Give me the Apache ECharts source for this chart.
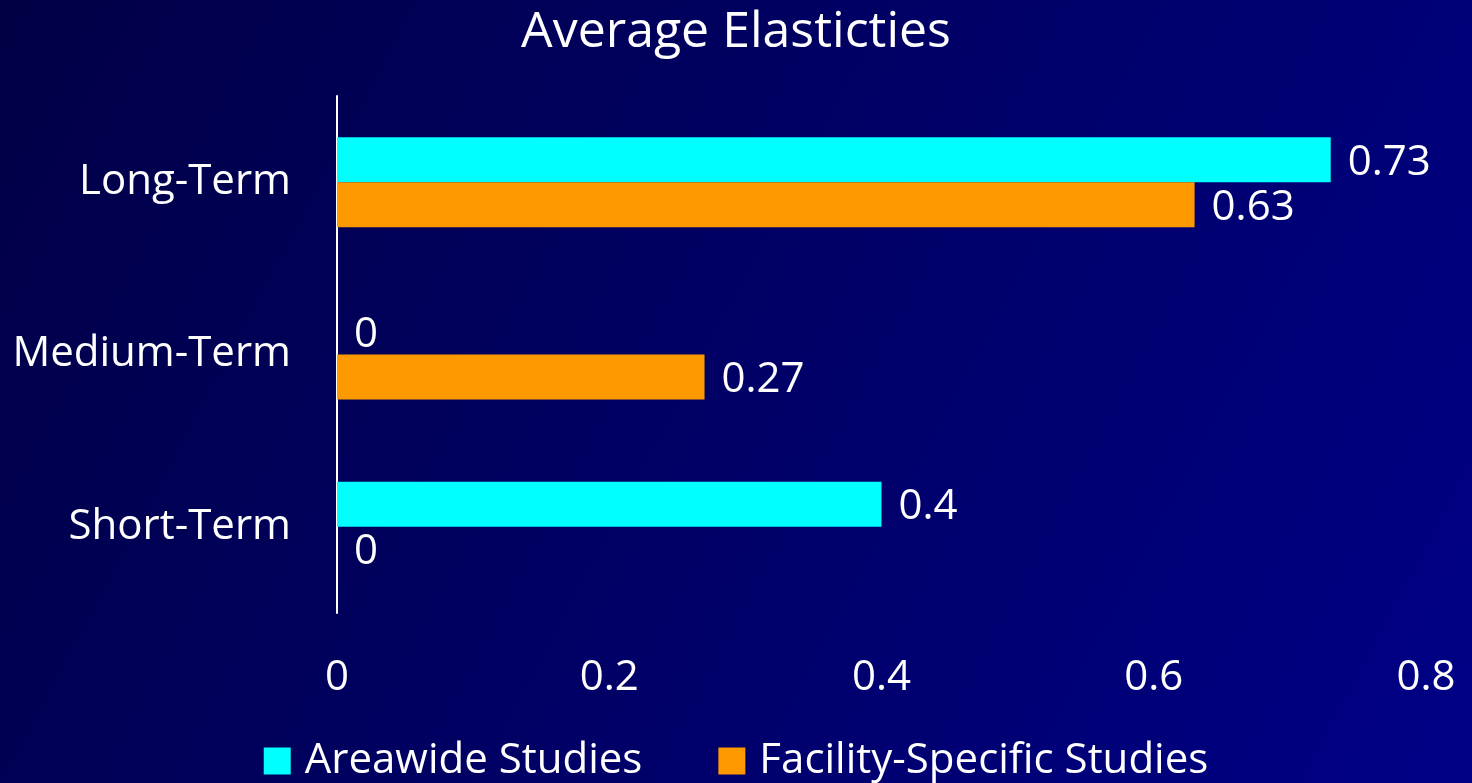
<!DOCTYPE html>
<html>
<head>
<meta charset="utf-8">
<script src="https://cdn.jsdelivr.net/npm/echarts@6/dist/echarts.min.js"></script>
<style>
html,body{margin:0;padding:0;width:1472px;height:783px;overflow:hidden;}
#chart{width:1472px;height:783px;}
</style>
</head>
<body>
<div id="chart"></div>
<script>
const categories = ['Long-Term', 'Medium-Term', 'Short-Term'];
const areawide = [0.73, 0, 0.4];
const facilitySpecific = [0.63, 0.27, 0];
const xTicks = [0, 0.2, 0.4, 0.6, 0.8];

const font = '"Open Sans", "Noto Sans", sans-serif';
const chart = echarts.init(document.getElementById('chart'));

const labelStyle = {
  show: true,
  position: 'right',
  distance: 17,
  offset: [0, 3],
  color: '#ffffff',
  fontSize: 42,
  fontFamily: font,
  formatter: p => String(p.value)
};

chart.setOption({
  backgroundColor: new echarts.graphic.LinearGradient(0, 0, 1, 1, [
    { offset: 0, color: '#000046' },
    { offset: 1, color: '#000086' }
  ]),
  title: {
    text: 'Average Elasticties',
    left: 'center',
    top: 3,
    textStyle: { color: '#ffffff', fontSize: 50, fontWeight: 'normal', fontFamily: font }
  },
  legend: {
    top: 735,
    left: 'center',
    itemWidth: 27,
    itemHeight: 27,
    itemGap: 76,
    icon: 'rect',
    textStyle: { color: '#ffffff', fontSize: 42, fontFamily: font, padding: [0, 0, 0, 9] },
    data: ['Areawide Studies', 'Facility-Specific Studies']
  },
  grid: { left: 337, right: 46, top: 96, bottom: 170 },
  xAxis: {
    type: 'value',
    min: 0,
    max: 0.8,
    interval: 0.2,
    axisLine: { show: false },
    axisTick: { show: false },
    splitLine: { show: false },
    axisLabel: {
      color: '#ffffff',
      fontSize: 42,
      fontFamily: font,
      margin: 44,
      formatter: v => {
        const t = xTicks.find(x => Math.abs(x - v) < 1e-9);
        return t === undefined ? '' : String(t);
      }
    }
  },
  yAxis: {
    type: 'category',
    inverse: true,
    data: categories,
    axisLine: { show: true, lineStyle: { color: '#ffffff', width: 2 } },
    axisTick: { show: false },
    axisLabel: { color: '#ffffff', fontSize: 42, fontFamily: font, margin: 46, padding: [10, 0, 0, 0] }
  },
  series: [
    {
      name: 'Areawide Studies',
      type: 'bar',
      data: areawide,
      barWidth: 45,
      barGap: '0%',
      itemStyle: { color: '#00ffff' },
      label: labelStyle
    },
    {
      name: 'Facility-Specific Studies',
      type: 'bar',
      data: facilitySpecific,
      barWidth: 45,
      barGap: '0%',
      itemStyle: { color: '#ff9900' },
      label: labelStyle
    }
  ]
});
</script>
</body>
</html>
